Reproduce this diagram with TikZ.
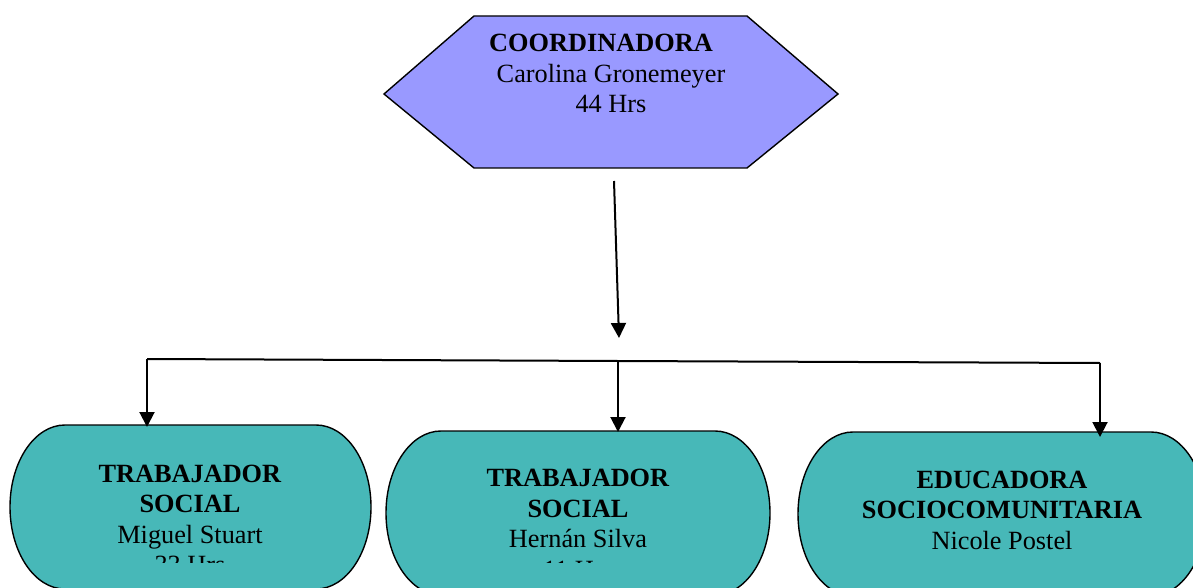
\documentclass[tikz,border=0pt]{standalone}
\usepackage{fontspec}
\setmainfont{Liberation Serif}
\usetikzlibrary{arrows.meta}
\definecolor{coordfill}{HTML}{9999FF}
\definecolor{teamfill}{HTML}{47B8B8}
% box with oval corners: \teambox[style](left,top,right,bottom)
\def\teambox[#1](#2,#3,#4,#5){\draw[#1] (#2+55,#3) -- (#4-55,#3)
  arc[start angle=-90,end angle=0,x radius=55,y radius=82] -- (#4,#5-82)
  arc[start angle=0,end angle=90,x radius=55,y radius=82] -- (#2+55,#5)
  arc[start angle=90,end angle=180,x radius=55,y radius=82] -- (#2,#3+82)
  arc[start angle=180,end angle=270,x radius=55,y radius=82] -- cycle;}
\tikzset{
  shapeline/.style={draw=black, line width=1.4pt},
  link/.style={line width=2pt},
  linkarrow/.style={link, -{Triangle[length=15pt,width=15pt]}},
  label/.style={inner sep=0pt, align=center, anchor=base,
    font=\fontsize{26.3}{30.5}\selectfont}
}
\begin{document}
\begin{tikzpicture}[x=1pt,y=-1pt]
		%%%%% FRAME %%%%%
		\useasboundingbox (0,0) rectangle (1193,588);
		\clip (0,0) rectangle (1193,588);
		
		%%%%% COORDINADORA %%%%%
		\draw[shapeline, fill=coordfill] (474,16) -- (747,16) -- (838,94) -- (747,168) -- (474,168) -- (384,94) -- cycle;
		% anchor=base sits on the last line
		\node[label] (coord) at (611,113) {\textbf{COORDINADORA}\hspace*{20pt}\\Carolina Gronemeyer\\44 Hrs};
		
		%%%%% TEAM %%%%%
		\teambox[shapeline, fill=teamfill](10,425,371,589)
		\teambox[shapeline, fill=teamfill](386,431,770,595)
		\teambox[shapeline, fill=teamfill](798,432,1206,596)
		
		\begin{scope}
			\clip (0,0) rectangle (1193,562);
			\node[label] (social1) at (190,573.5) {\textbf{TRABAJADOR}\\\textbf{SOCIAL}\\Miguel Stuart\\33 Hrs};
			\node[label] (social2) at (578,578) {\textbf{TRABAJADOR}\\\textbf{SOCIAL}\\Hernán Silva\\11 Hrs};
		\end{scope}
		\node[label] (educ) at (1002,549) {\textbf{EDUCADORA}\\\textbf{SOCIOCOMUNITARIA}\\Nicole Postel};
		
		%%%%% LINKS %%%%%
		\coordinate (down) at (614,181);
		\coordinate (hub) at (619,338);
		\coordinate (busL) at (147,359);
		\coordinate (busM) at (618,361);
		\coordinate (busR) at (1100,363);
		\coordinate (topL) at (147,427);
		\coordinate (topM) at (618,432);
		\coordinate (topR) at (1100,437);
		
		\draw[linkarrow] (down) -- (hub);
		\draw[link] (busL) -- (busM) -- (busR);
		\draw[linkarrow] (busL) -- (topL);
		\draw[linkarrow] (busM) -- (topM);
		\draw[linkarrow] (busR) -- (topR);
		%%%%% END %%%%%
	\end{tikzpicture}
\end{document}
